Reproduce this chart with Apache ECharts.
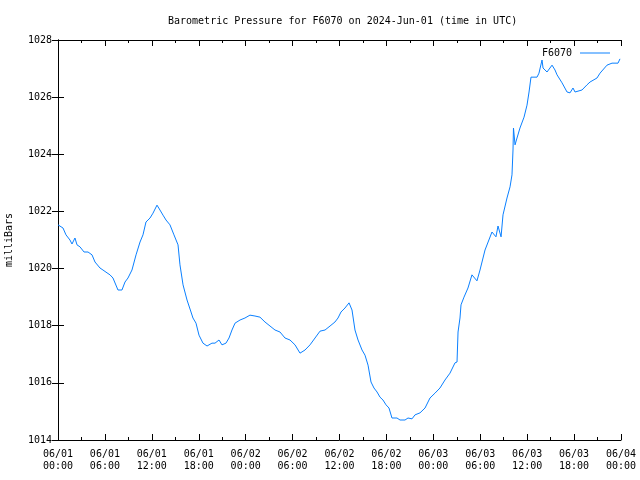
<!DOCTYPE html>
<html>
<head>
<meta charset="utf-8">
<script src="https://cdn.jsdelivr.net/npm/echarts@6/dist/echarts.min.js"></script>
<style>html,body{margin:0;padding:0;background:#fff;}#c{width:640px;height:480px;}</style>
</head>
<body>
<div id="c"></div>
<script>
// hours since 2024-06-01 00:00 UTC
var hours = [0.00,0.64,1.02,1.53,1.79,2.17,2.43,2.81,3.33,3.84,4.35,4.73,5.37,5.75,6.27,6.65,7.03,7.67,8.18,8.57,8.95,9.46,9.98,10.49,10.87,11.25,11.77,12.15,12.66,13.04,13.43,13.81,14.32,14.83,15.35,15.60,15.99,16.50,17.01,17.26,17.65,18.03,18.54,19.06,19.69,20.08,20.59,20.97,21.48,21.87,22.25,22.64,23.28,23.91,24.55,25.19,25.83,26.47,27.11,27.75,28.39,29.03,29.67,30.31,30.95,31.59,32.23,32.87,33.51,34.15,34.79,35.42,35.81,36.19,36.70,37.22,37.60,37.98,38.37,38.88,39.26,39.65,40.03,40.41,40.80,41.18,41.56,41.95,42.33,42.71,43.35,43.74,44.38,44.76,45.27,45.66,46.30,46.94,47.57,48.21,48.85,49.49,50.13,50.77,51.03,51.16,51.41,51.54,51.92,52.43,52.94,53.58,53.97,54.61,55.50,56.01,56.27,56.66,56.91,57.42,57.81,58.06,58.19,58.25,58.45,58.70,59.08,59.60,59.98,60.24,60.49,61.26,61.51,61.90,62.03,62.54,63.18,63.56,63.82,64.46,65.10,65.48,65.86,66.12,67.01,67.65,68.04,68.93,69.32,70.21,70.85,71.62,71.87];
var pressure = [1021.53,1021.42,1021.18,1021.00,1020.86,1021.07,1020.83,1020.76,1020.58,1020.58,1020.48,1020.23,1020.02,1019.95,1019.85,1019.78,1019.67,1019.25,1019.25,1019.53,1019.67,1019.95,1020.48,1020.93,1021.18,1021.63,1021.77,1021.94,1022.22,1022.05,1021.87,1021.70,1021.53,1021.18,1020.83,1020.13,1019.43,1018.90,1018.48,1018.27,1018.09,1017.67,1017.39,1017.29,1017.39,1017.39,1017.50,1017.33,1017.39,1017.57,1017.85,1018.09,1018.20,1018.27,1018.37,1018.34,1018.30,1018.13,1017.99,1017.85,1017.78,1017.57,1017.50,1017.33,1017.04,1017.15,1017.33,1017.57,1017.81,1017.85,1017.99,1018.13,1018.27,1018.48,1018.62,1018.80,1018.55,1017.85,1017.50,1017.15,1016.97,1016.62,1016.03,1015.82,1015.68,1015.50,1015.40,1015.23,1015.12,1014.77,1014.77,1014.70,1014.70,1014.77,1014.74,1014.88,1014.95,1015.12,1015.47,1015.64,1015.82,1016.10,1016.34,1016.70,1016.73,1017.78,1018.27,1018.73,1019.00,1019.32,1019.78,1019.57,1019.95,1020.65,1021.28,1021.11,1021.49,1021.11,1021.88,1022.47,1022.86,1023.28,1024.15,1024.92,1024.33,1024.57,1024.92,1025.30,1025.72,1026.18,1026.70,1026.70,1026.84,1027.30,1027.02,1026.88,1027.12,1026.95,1026.78,1026.50,1026.18,1026.15,1026.32,1026.18,1026.25,1026.43,1026.53,1026.67,1026.84,1027.12,1027.19,1027.19,1027.34];
var xTickLabels = ['06/01\n00:00','06/01\n06:00','06/01\n12:00','06/01\n18:00','06/02\n00:00','06/02\n06:00','06/02\n12:00','06/02\n18:00','06/03\n00:00','06/03\n06:00','06/03\n12:00','06/03\n18:00','06/04\n00:00'];
var yTicks = [1014,1016,1018,1020,1022,1024,1026,1028];

var FONT = "'DejaVu Sans Mono', 'Liberation Mono', monospace";
var chart = echarts.init(document.getElementById('c'), null, {renderer: 'canvas'});
var lineColor = '#0a80ff';
var xBase = {
  type: 'value', min: 0, max: 72, interval: 6,
  axisLine: {show: true, lineStyle: {color: '#000', width: 1}},
  axisTick: {show: true, inside: true, length: 6, lineStyle: {color: '#000'}},
  minorTick: {show: true, splitNumber: 2, length: 3, lineStyle: {color: '#000'}},
  splitLine: {show: false}
};
var yBase = {
  type: 'value', min: yTicks[0], max: yTicks[yTicks.length - 1], interval: 2,
  axisLine: {show: true, lineStyle: {color: '#000', width: 1}},
  axisTick: {show: true, inside: true, length: 6, lineStyle: {color: '#000'}},
  splitLine: {show: false}
};
chart.setOption({
  animation: false,
  backgroundColor: '#fff',
  title: {
    text: 'Barometric Pressure for F6070 on 2024-Jun-01 (time in UTC)',
    left: 163, top: 11,
    textStyle: {fontFamily: FONT, fontSize: 10, fontWeight: 'normal', color: '#000'}
  },
  legend: {
    right: 25, top: 43,
    align: 'right',
    itemWidth: 30, itemHeight: 10, itemGap: 5,
    icon: 'path://M0,4.5 L30,4.5 L30,5.5 L0,5.5 Z',
    textStyle: {fontFamily: FONT, fontSize: 10, color: '#000', padding: [0, 3, 0, 0]},
    data: ['F6070']
  },
  grid: {left: 58, right: 19, top: 40, bottom: 40, containLabel: false, outerBoundsMode: 'none'},
  xAxis: [
    Object.assign({}, xBase, {
      position: 'bottom',
      axisLabel: {
        fontFamily: FONT, fontSize: 10, color: '#000', margin: 8, lineHeight: 12,
        formatter: function (v) { return xTickLabels[Math.round(v / 6)] || ''; }
      }
    }),
    Object.assign({}, xBase, {position: 'top', axisLabel: {show: false}})
  ],
  yAxis: [
    Object.assign({}, yBase, {
      position: 'left',
      name: 'milliBars', nameLocation: 'middle', nameRotate: 90, nameGap: 44,
      nameTextStyle: {fontFamily: FONT, fontSize: 10, color: '#000'},
      axisLabel: {fontFamily: FONT, fontSize: 10, color: '#000', margin: 6,
        formatter: function (v) { return String(v); }}
    }),
    Object.assign({}, yBase, {position: 'right', axisLabel: {show: false}})
  ],
  series: [{
    name: 'F6070',
    type: 'line',
    xAxisIndex: 0, yAxisIndex: 0,
    showSymbol: false, symbol: 'none',
    lineStyle: {color: lineColor, width: 1},
    itemStyle: {color: lineColor},
    data: hours.map(function (h, i) { return [h, pressure[i]]; })
  }]
});
</script>
</body>
</html>
